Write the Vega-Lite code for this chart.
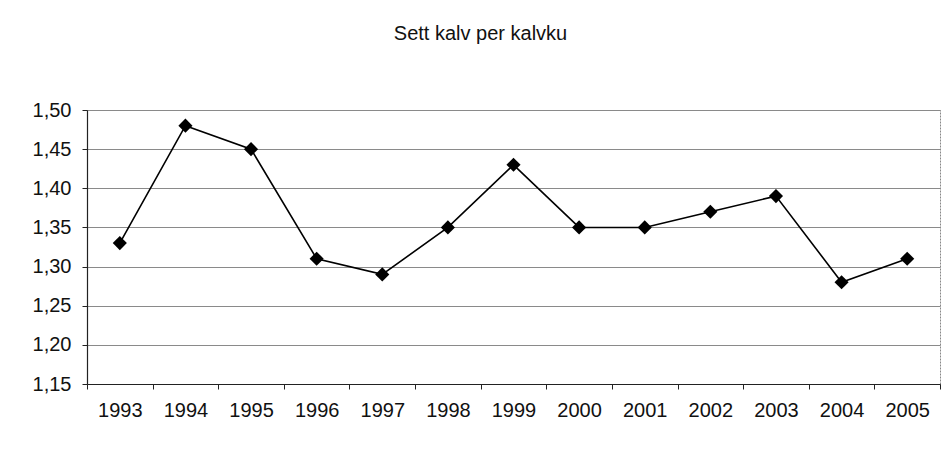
{
  "$schema": "https://vega.github.io/schema/vega-lite/v6.json",
  "width": 853,
  "height": 274,
  "autosize": {"type": "none"},
  "padding": {"left": 87, "top": 110, "right": 7, "bottom": 72},
  "background": "white",
  "title": {
    "text": "Sett kalv per kalvku",
    "font": "Liberation Sans",
    "fontSize": 20,
    "fontWeight": "normal",
    "color": "#111",
    "anchor": "middle",
    "dx": -33,
    "offset": 56
  },
  "data": {
    "values": [
      {"year": "1993", "value": 1.33},
      {"year": "1994", "value": 1.48},
      {"year": "1995", "value": 1.45},
      {"year": "1996", "value": 1.31},
      {"year": "1997", "value": 1.29},
      {"year": "1998", "value": 1.35},
      {"year": "1999", "value": 1.43},
      {"year": "2000", "value": 1.35},
      {"year": "2001", "value": 1.35},
      {"year": "2002", "value": 1.37},
      {"year": "2003", "value": 1.39},
      {"year": "2004", "value": 1.28},
      {"year": "2005", "value": 1.31}
    ]
  },
  "encoding": {
    "x": {
      "field": "year",
      "type": "ordinal",
      "scale": {"type": "band", "paddingInner": 0, "paddingOuter": 0},
      "axis": {
        "title": null,
        "labelAngle": 0,
        "labelFont": "Liberation Sans",
        "labelFontSize": 20,
        "labelColor": "#111",
        "labelPadding": 11,
        "tickBand": "extent",
        "tickSize": 5,
        "tickColor": "#222",
        "domainColor": "#222",
        "domainWidth": 1.2,
        "grid": false
      }
    },
    "y": {
      "field": "value",
      "type": "quantitative",
      "scale": {"domain": [1.15, 1.5], "nice": false, "zero": false},
      "axis": {
        "title": null,
        "values": [1.15, 1.2, 1.25, 1.3, 1.35, 1.4, 1.45, 1.5],
        "labelExpr": "replace(format(datum.value, '.2f'), '.', ',')",
        "labelFont": "Liberation Sans",
        "labelFontSize": 20,
        "labelColor": "#111",
        "labelPadding": 11,
        "tickSize": 5,
        "tickColor": "#222",
        "domainColor": "#222",
        "domainWidth": 1.2,
        "grid": true,
        "gridColor": "#8a8a8a",
        "gridWidth": 1
      }
    }
  },
  "layer": [
    {"mark": {"type": "line", "color": "#000", "strokeWidth": 1.6}},
    {"mark": {"type": "point", "shape": "diamond", "filled": true, "color": "#000", "opacity": 1, "size": 200}}
  ],
  "config": {
    "view": {"stroke": "#888", "strokeDash": [2, 1], "strokeWidth": 1}
  }
}
